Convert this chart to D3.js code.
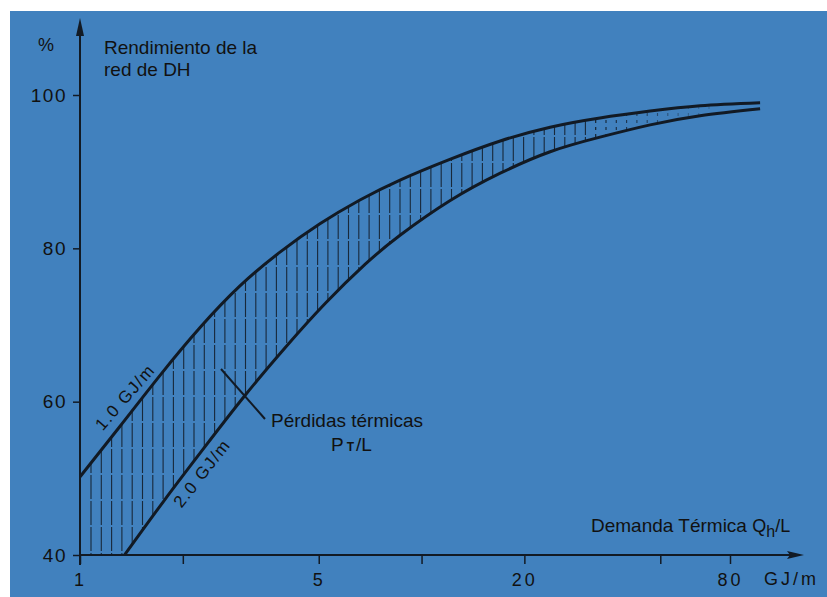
<!DOCTYPE html>
<html>
<head>
<meta charset="utf-8">
<script src="https://cdn.jsdelivr.net/npm/d3@7"></script>
<style>
  body { margin: 0; background: #fff; }
  svg { display: block; }
  text { font-family: "Liberation Sans", Arial, sans-serif; fill: #111; }
</style>
</head>
<body>
<div id="chart"></div>
<script>
// values (Qh/L in GJ/m, efficiency in %)
const upperQ   = [1.0, 1.31, 1.72, 2.25, 2.94, 3.85, 5.04, 6.6, 8.65, 12.1, 17.0, 23.8, 33.3, 46.7, 65.4, 98];
const upperEta = [50.2, 56.8, 63.5, 69.7, 75.1, 79.5, 83.2, 86.3, 88.9, 91.6, 94.0, 95.8, 97.0, 97.9, 98.6, 99.0];
const lowerQ   = [1.35, 1.77, 2.32, 3.04, 3.98, 5.22, 6.83, 8.65, 12.1, 17.0, 23.8, 33.3, 46.7, 65.4, 98];
const lowerEta = [40, 47.2, 54.1, 60.8, 67.0, 72.8, 77.9, 81.7, 86.2, 89.8, 92.6, 94.5, 96.1, 97.3, 98.2];

const etaTicks = [40, 60, 80, 100];
const qTicks = [1, 2, 5, 10, 20, 50, 80];
const qLabels = [1, 5, 20, 80];

const W = 827, H = 597;
const ink = '#121a24';

const x = d3.scaleLog().domain([1, 80]).range([80, 730]);
const y = d3.scaleLinear().domain([40, 100]).range([555, 95]);

const svg = d3.select('#chart').append('svg')
  .attr('width', W)
  .attr('height', H);

// blue paper, white strip top and left
svg.append('rect')
  .attr('x', 10).attr('y', 11)
  .attr('width', W - 10).attr('height', H - 11)
  .attr('fill', '#4181be');

const upper = upperQ.map((q, i) => ({q: q, eta: upperEta[i]}));
const lower = lowerQ.map((q, i) => ({q: q, eta: lowerEta[i]}));

const line = d3.line()
  .x(d => x(d.q))
  .y(d => y(d.eta))
  .curve(d3.curveNatural);

const area = d3.area()
  .x(d => x(d.q))
  .y0(y(40))
  .y1(d => y(d.eta))
  .curve(d3.curveNatural);

// mask = between the two curves
const mask = svg.append('defs').append('mask')
  .attr('id', 'band')
  .attr('maskUnits', 'userSpaceOnUse')
  .attr('x', 0).attr('y', 0).attr('width', W).attr('height', H);
mask.append('path').attr('d', area(upper)).attr('fill', '#fff');
mask.append('path').attr('d', area(lower)).attr('fill', '#000');

// vertical hatching
svg.append('g')
  .attr('mask', 'url(#band)')
  .selectAll('line')
  .data(d3.range(91, 712, 10.3))
  .join('line')
  .attr('x1', d => d).attr('x2', d => d)
  .attr('y1', y(100) - 10).attr('y2', y(40))
  .attr('stroke', ink)
  .attr('stroke-width', 1.1)
  .attr('stroke-dasharray', d => d > 590 ? '3,4' : '24,2')
  .attr('opacity', d => d > 590 ? Math.max(0.25, 1 - (d - 590) / 140) : 0.85);

// curves
svg.append('path')
  .datum(upper)
  .attr('fill', 'none')
  .attr('stroke', ink)
  .attr('stroke-width', 3)
  .attr('d', line);

svg.append('path')
  .datum(lower)
  .attr('fill', 'none')
  .attr('stroke', ink)
  .attr('stroke-width', 3)
  .attr('d', line);

// y axis
const yAxis = svg.append('g')
  .attr('transform', `translate(${x(1)},0)`)
  .call(d3.axisLeft(y).tickValues(etaTicks).tickSize(7).tickPadding(6))
  .call(g => g.select('.domain').remove());
yAxis.selectAll('.tick line').attr('stroke', ink).attr('stroke-width', 1.5);
yAxis.selectAll('.tick text')
  .style('font-size', '19px')
  .style('letter-spacing', '1.5px')
  .attr('fill', '#151c26');

svg.append('line')
  .attr('x1', x(1)).attr('x2', x(1))
  .attr('y1', y(40) + 10).attr('y2', 26)
  .attr('stroke', ink).attr('stroke-width', 2);
svg.append('path')
  .attr('d', `M${x(1)},18 L${x(1) - 4},36 L${x(1) + 4},36 Z`)
  .attr('fill', ink);

// x axis
const xAxis = svg.append('g')
  .attr('transform', `translate(0,${y(40)})`)
  .call(d3.axisBottom(x).tickValues(qTicks).tickSize(9).tickPadding(9)
    .tickFormat(d => qLabels.includes(d) ? d : ''))
  .call(g => g.select('.domain').remove());
xAxis.selectAll('.tick line').attr('stroke', ink).attr('stroke-width', 1.5);
xAxis.selectAll('.tick text')
  .style('font-size', '18px')
  .style('letter-spacing', '3px')
  .attr('fill', '#151c26');

svg.append('line')
  .attr('x1', x(1)).attr('x2', 796)
  .attr('y1', y(40)).attr('y2', y(40))
  .attr('stroke', ink).attr('stroke-width', 2);
svg.append('path')
  .attr('d', `M804,${y(40)} L787,${y(40) - 4} L790,${y(40)} L787,${y(40) + 4} Z`)
  .attr('fill', ink);

svg.append('text')
  .attr('x', 764).attr('y', 585)
  .style('font-size', '18px')
  .style('letter-spacing', '3px')
  .text('GJ/m');

// axis titles
svg.append('text')
  .attr('x', 46).attr('y', 51)
  .attr('text-anchor', 'middle')
  .style('font-size', '18px')
  .text('%');

svg.append('text')
  .attr('x', 104).attr('y', 54)
  .style('font-size', '19px')
  .text('Rendimiento de la');
svg.append('text')
  .attr('x', 104).attr('y', 76)
  .style('font-size', '19px')
  .text('red de DH');

const qt = svg.append('text')
  .attr('x', 591).attr('y', 532)
  .style('font-size', '19px');
qt.append('tspan').text('Demanda Térmica ');
qt.append('tspan').style('font-size', '18px').text('Q');
qt.append('tspan').attr('dy', 5).style('font-size', '16px').text('h');
qt.append('tspan').attr('dy', -5).style('font-size', '18px').text('/L');

// curve labels
svg.append('text')
  .attr('transform', 'translate(126,398) rotate(-49)')
  .attr('text-anchor', 'middle')
  .attr('dominant-baseline', 'middle')
  .style('font-size', '17px')
  .style('letter-spacing', '1.5px')
  .text('1.0 GJ/m');

svg.append('text')
  .attr('transform', 'translate(203,474) rotate(-52)')
  .attr('text-anchor', 'middle')
  .attr('dominant-baseline', 'middle')
  .style('font-size', '17px')
  .style('letter-spacing', '1.5px')
  .text('2.0 GJ/m');

// losses annotation
svg.append('line')
  .attr('x1', 221).attr('y1', 369)
  .attr('x2', 265).attr('y2', 419)
  .attr('stroke', ink).attr('stroke-width', 2);

svg.append('text')
  .attr('x', 271).attr('y', 427)
  .style('font-size', '19px')
  .text('Pérdidas térmicas');

const pt = svg.append('text')
  .attr('x', 331).attr('y', 451)
  .style('font-size', '19px');
pt.append('tspan').text('P');
pt.append('tspan').attr('dx', 3).style('font-size', '12px').style('font-weight', 'bold').text('T');
pt.append('tspan').attr('dx', 2).text('/L');
</script>
</body>
</html>
